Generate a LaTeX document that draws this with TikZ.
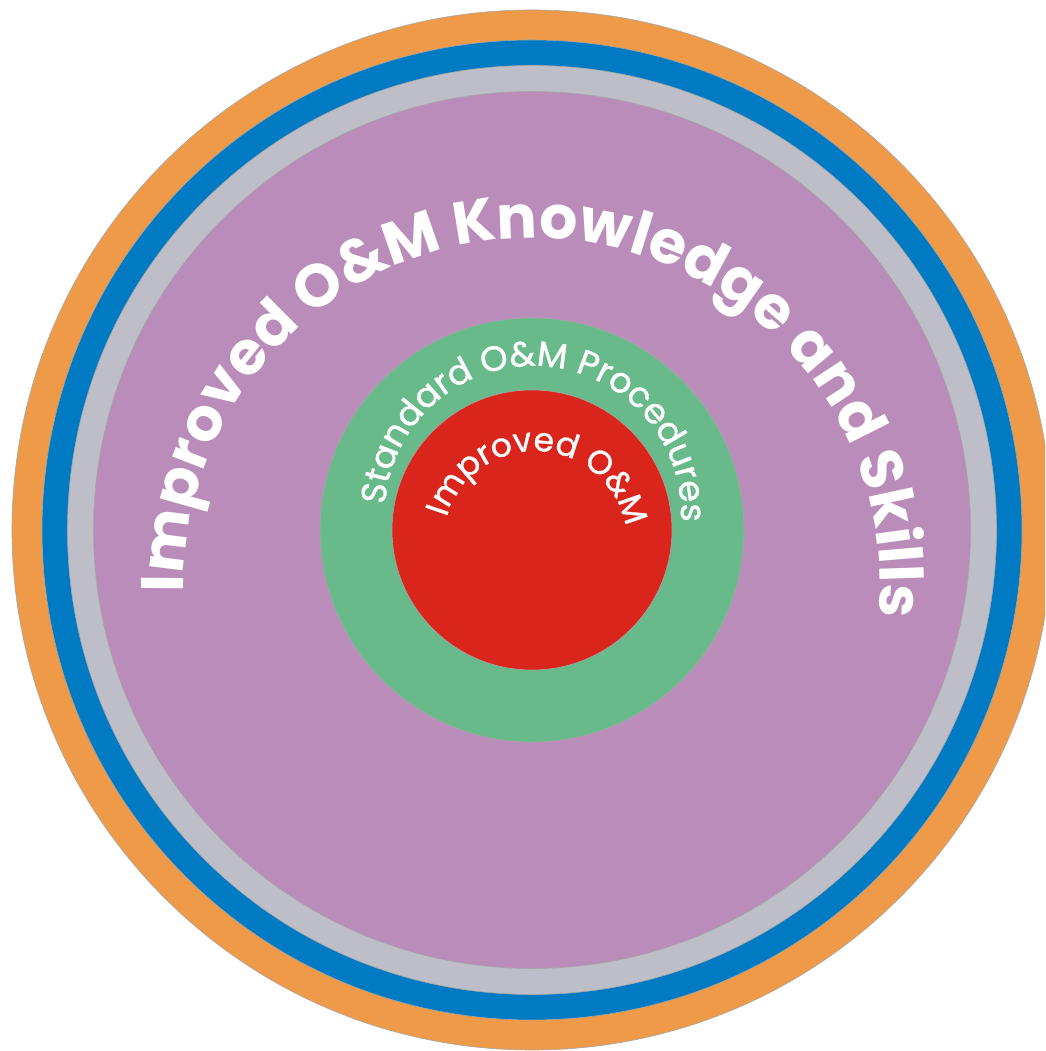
\documentclass[tikz,border=0pt]{standalone}
\usepackage{fontspec}
\setmainfont{Poppins}
\newfontfamily\ringmedium{Poppins}[FakeBold=1]
\usetikzlibrary{decorations.text}

\definecolor{ringorange}{RGB}{238,154,72}
\definecolor{ringblue}{RGB}{0,122,194}
\definecolor{ringgray}{RGB}{190,190,200}
\definecolor{ringpurple}{RGB}{185,140,185}
\definecolor{ringgreen}{RGB}{104,186,138}
\definecolor{ringred}{RGB}{217,37,28}

\newcommand\outertext{\fontsize{60}{64}\selectfont\bfseries}
\newcommand\middletext{\ringmedium\fontsize{35}{38}\selectfont}
\newcommand\innertext{\ringmedium\fontsize{33}{36}\selectfont}

\tikzset{
  ring/.style={circle, draw=black!35, line width=0.6pt, inner sep=0pt},
  arclabel/.style={decorate, decoration={text along path, text align=center, text color=white}}
}

\begin{document}
\begin{tikzpicture}[x=1pt,y=1pt]
  \useasboundingbox (0,0) rectangle (1045,1051);
  \clip (0,0) rectangle (1045,1051);
  \coordinate (c) at (532,521);

  \begin{scope}[every node/.style={ring}]
    \node[fill=ringorange, minimum size=1040] (orange) at (c) {};
    \node[fill=ringblue,   minimum size=980]  (blue)   at (c) {};
    \node[fill=ringgray,   minimum size=929]  (gray)   at (c) {};
    \node[fill=ringpurple, minimum size=877]  (purple) at (c) {};
    \node[fill=ringgreen,  minimum size=424]  (green)  at (c) {};
    \node[fill=ringred,    minimum size=280]  (red)    at (c) {};
  \end{scope}

  % centres of the label arcs
  \coordinate (outerarc)  at (532,465);
  \coordinate (middlearc) at (533,537);
  \coordinate (innerarc)  at (535,508);

  % labels along the rings
  \path[arclabel, decoration={text={|\outertext|Improved O{\&}M Knowledge and Skills}}]
    ([shift={(198:348)}]outerarc) arc[start angle=198, end angle=-22, radius=348];
  \path[arclabel, decoration={text={|\middletext|Standard O{\&}M Procedures}}]
    ([shift={(186.7:148)}]middlearc) arc[start angle=186.7, end angle=-13.3, radius=148];
  \path[arclabel, decoration={text={|\innertext|Improved O{\&}M}}]
    ([shift={(187:92)}]innerarc) arc[start angle=187, end angle=-13, radius=92];
\end{tikzpicture}
\end{document}
